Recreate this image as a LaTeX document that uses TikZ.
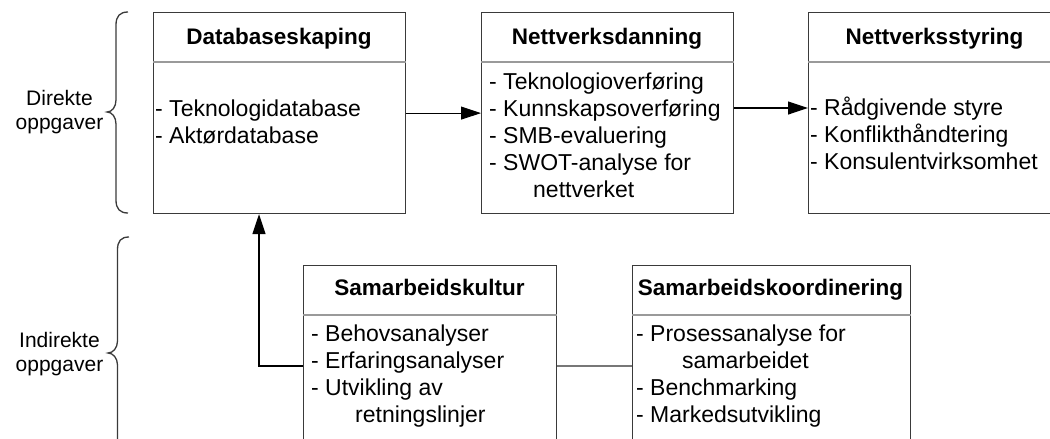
\documentclass[tikz,border=0pt]{standalone}
\usepackage{fontspec}
\setmainfont{Liberation Sans}
\usetikzlibrary{arrows.meta,calc}
\definecolor{edge}{HTML}{3A3A3A}
\definecolor{rule}{HTML}{9A9A9A}
\definecolor{link}{HTML}{777777}
% a top-aligned list, so the node's base is the first line's baseline
\newcommand\tasklist[1]{\begin{tabular}[t]{@{}l@{}}#1\end{tabular}}
\begin{document}
\begin{tikzpicture}[x=1pt,y=-1pt,
  box/.style={draw=edge, line width=1.2pt, anchor=north west, inner sep=0pt},
  divider/.style={draw=rule, line width=1.1pt},
  title/.style={anchor=base, inner sep=0pt, font=\fontsize{22.5}{27}\selectfont\bfseries},
  body/.style={anchor=base west, inner sep=0pt, font=\fontsize{23}{27}\selectfont},
  side/.style={align=center, inner sep=0pt, font=\fontsize{21}{24.5}\selectfont},
  arr/.style={draw=black, line width=1.2pt, -{Triangle[length=20pt,width=13pt]}},
  brace/.style={draw=edge, line width=1.3pt}]
\useasboundingbox (0,0) rectangle (1050,439);
\clip (0,0) rectangle (1050,439);

% upper row: direct tasks
\node[box, minimum width=252pt, minimum height=201pt] (db) at (153,12) {};
\node[box, minimum width=252pt, minimum height=201pt] (nd) at (481,12) {};
\node[box, minimum width=253pt, minimum height=201pt] (ns) at (808,12) {};
\draw[divider] (db.west |- 0,62) -- (db.east |- 0,62);
\draw[divider] (nd.west |- 0,62) -- (nd.east |- 0,62);
\draw[divider] (ns.west |- 0,62) -- (ns.east |- 0,62);

\node[title] (dbt) at (279,44) {Databaseskaping};
\node[title] (ndt) at (607,44) {Nettverksdanning};
\node[title] (nst) at (934.5,44) {Nettverksstyring};

\node[body] (dbb) at (155,116) {\tasklist{- Teknologidatabase\\- Aktørdatabase}};
\node[body] (ndb) at (489,89) {\tasklist{- Teknologioverføring\\- Kunnskapsoverføring\\- SMB-evaluering\\- SWOT-analyse for\\\hspace*{44pt}nettverket}};
\node[body] (nsb) at (810,115) {\tasklist{- Rådgivende styre\\- Konflikthåndtering\\- Konsulentvirksomhet}};

% lower row: indirect tasks
\node[box, minimum width=253pt, minimum height=210pt] (sk) at (303,265) {};
\node[box, minimum width=277.5pt, minimum height=210pt] (sko) at (632,265) {};
\draw[divider] (sk.west |- 0,315) -- (sk.east |- 0,315);
\draw[divider] (sko.west |- 0,315) -- (sko.east |- 0,315);

\node[title] (skt) at (429.5,295) {Samarbeidskultur};
\node[title] (skot) at (770.5,295) {Samarbeidskoordinering};

\node[body] (skb) at (311,341) {\tasklist{- Behovsanalyser\\- Erfaringsanalyser\\- Utvikling av\\\hspace*{44pt}retningslinjer}};
\node[body] (skob) at (636,341) {\tasklist{- Prosessanalyse for\\\hspace*{46pt}samarbeidet\\- Benchmarking\\- Markedsutvikling}};

% connectors
\coordinate (upper) at (0,108);
\coordinate (lower) at (259,366);
\draw[arr, line width=1pt] (db.east) -- (nd.west);
\draw[arr] (nd.east |- upper) -- (ns.west |- upper);
\draw[draw=link, line width=1.1pt] (sk.east |- lower) -- (sko.west |- lower);
\draw[arr] (sk.west |- lower) -| (db.south -| lower);

% braces and their labels
\draw[brace] (128,12) .. controls (120,12) and (116,16) .. (116,25)
  -- (116,100) .. controls (116,107) and (112,112) .. (107,112)
  .. controls (112,112) and (116,117) .. (116,124)
  -- (116,200) .. controls (116,209) and (120,213) .. (128,213);
\draw[brace] (129,237) .. controls (121,237) and (117.5,241) .. (117.5,250)
  -- (117.5,341) .. controls (117.5,348) and (113,353) .. (108,353)
  .. controls (113,353) and (117.5,358) .. (117.5,365)
  -- (117.5,456) .. controls (117.5,465) and (121,469) .. (129,469);

\node[side] (dir) at (59.5,112) {Direkte\\oppgaver};
\node[side] (ind) at (59.5,354) {Indirekte\\oppgaver};
\end{tikzpicture}
\end{document}
